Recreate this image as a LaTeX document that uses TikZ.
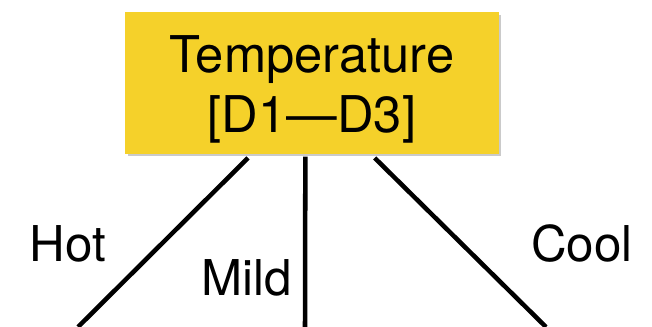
\documentclass[tikz,border=0pt]{standalone}
\usepackage{fontspec}
\setmainfont{TeX Gyre Heros}
\usepackage{tikz}
\usetikzlibrary{positioning, shadows}
\definecolor{colorSplit}{RGB}{245,209,42}
\tikzset{
  splitNode/.style={rectangle, fill=colorSplit, minimum width=280pt, minimum height=106pt,
    align=center, inner sep=0pt, font=\fontsize{38}{45}\selectfont,
    drop shadow={shadow xshift=2pt, shadow yshift=-2pt, opacity=.35, fill=black!60}},
  branch/.style={line width=3.4pt, line cap=butt},
  branchLabel/.style={inner sep=0pt, font=\fontsize{37}{40}\selectfont}
}

\begin{document}
\begin{tikzpicture}[x=0.75pt, y=-0.75pt]
\useasboundingbox (0,0) rectangle (652,327);
% strut on the first line pushes both lines a little lower in the box
\node[splitNode] (temp) at (312,83) {\rule{0pt}{38pt}Temperature\\{[D1---D3]}};
\coordinate (hotEnd) at (78,327);
\coordinate (mildEnd) at (305,327);
\coordinate (coolEnd) at (546,327);
\draw[branch] ([xshift=-48pt, yshift=-3pt]temp.south) -- (hotEnd);
\draw[branch] ([xshift=-5pt, yshift=-2pt]temp.south) -- (mildEnd);
\draw[branch] ([xshift=47pt, yshift=-3pt]temp.south) -- (coolEnd);
\node[branchLabel] (hot) at (68,244) {Hot};
\node[branchLabel] (mild) at (247,278) {Mild};
\node[branchLabel] (cool) at (582,244) {Cool};
\end{tikzpicture}
\end{document}
